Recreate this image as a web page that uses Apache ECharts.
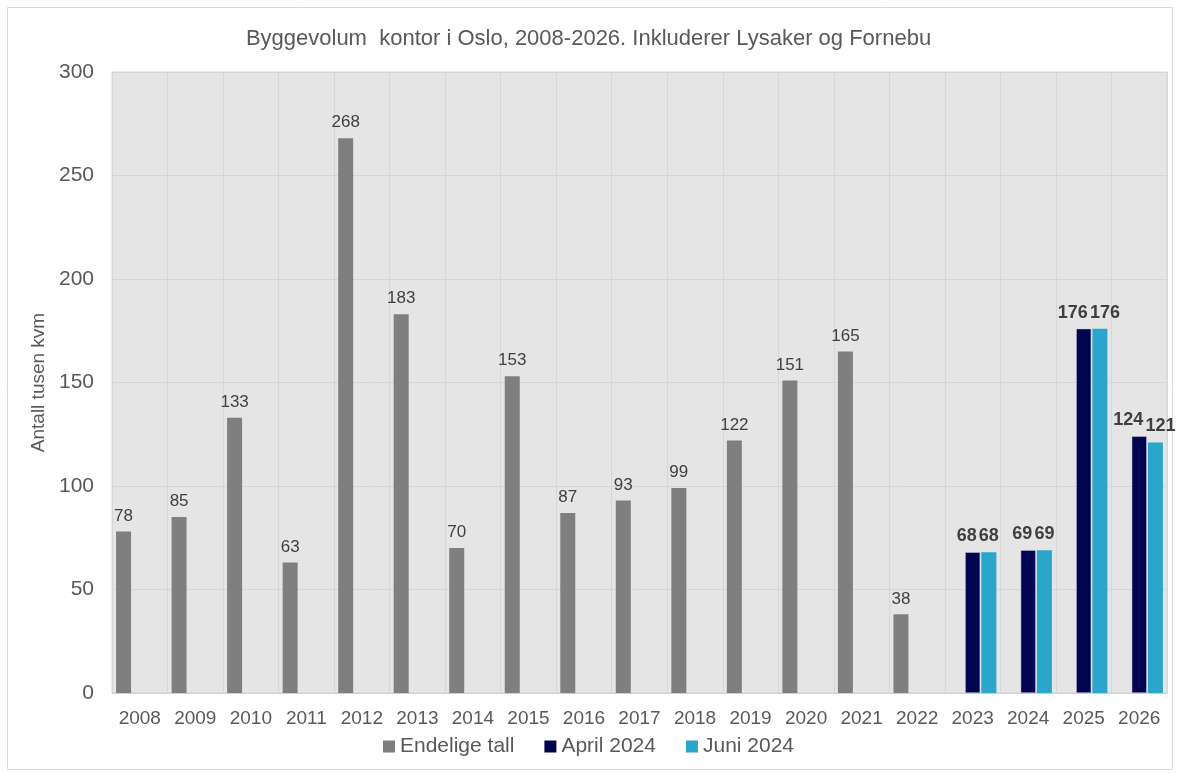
<!DOCTYPE html>
<html><head><meta charset="utf-8">
<script src="https://cdn.jsdelivr.net/npm/echarts@6/dist/echarts.min.js"></script>
<style>html,body{margin:0;padding:0;background:#fff}#c{width:1177px;height:773px}</style>
</head><body><div id="c"></div>
<script>
const years = ['2008','2009','2010','2011','2012','2013','2014','2015','2016','2017','2018','2019','2020','2021','2022','2023','2024','2025','2026'];
const endelige = [78,85,133,63,268,183,70,153,87,93,99,122,151,165,38,null,null,null,null];
const april2024 = [null,null,null,null,null,null,null,null,null,null,null,null,null,null,null,68,69,176,124];
const juni2024 = [null,null,null,null,null,null,null,null,null,null,null,null,null,null,null,68,69,176,121];
const yTicks = [0,50,100,150,200,250,300];

const font = 'Liberation Sans, Arial, sans-serif';
const chart = echarts.init(document.getElementById('c'));
chart.setOption({
  animation:false,
  backgroundColor:'#fff',
  graphic:[{type:'rect',shape:{x:7.5,y:7.5,width:1165,height:762},style:{fill:'none',stroke:'#d9d9d9',lineWidth:1},silent:true}],
  title:{text:'Byggevolum  kontor i Oslo, 2008-2026. Inkluderer Lysaker og Fornebu',left:'center',top:23,
    textStyle:{fontFamily:font,fontSize:22,fontWeight:'normal',color:'#595959'}},
  legend:{bottom:11,left:'center',itemWidth:12,itemHeight:12,itemGap:30,icon:'rect',
    itemStyle:{borderWidth:0},
    textStyle:{fontFamily:font,fontSize:21,color:'#595959'}},
  grid:{left:112,right:10,top:72,bottom:80,backgroundColor:'#e5e5e5',show:true,borderColor:'#d6d6d6',borderWidth:1},
  xAxis:{type:'category',data:years,
    axisLine:{show:true,lineStyle:{color:'#d0d0d0'}},axisTick:{show:false},
    splitLine:{show:true,lineStyle:{color:'#d6d6d6',width:1}},
    axisLabel:{fontFamily:font,fontSize:19,color:'#595959',margin:16,interval:0}},
  yAxis:{type:'value',min:0,max:300,interval:50,
    name:'Antall tusen kvm',nameLocation:'middle',nameGap:62,
    nameTextStyle:{fontFamily:font,fontSize:19,color:'#595959'},
    axisLine:{show:false},axisTick:{show:false},
    splitLine:{lineStyle:{color:'#d6d6d6',width:1}},
    axisLabel:{fontFamily:font,fontSize:21,color:'#595959',margin:18,
      formatter:v=>yTicks.includes(v)?String(v):''}},
  series:[
    {name:'Endelige tall',type:'bar',data:endelige,barWidth:15,barGap:'8%',
      itemStyle:{color:'#7f7f7f'},
      label:{show:true,position:'top',distance:7,fontFamily:font,fontSize:17,color:'#404040'}},
    {name:'April 2024',type:'bar',data:april2024,barWidth:15,barGap:'8%',
      itemStyle:{color:'#000451',borderColor:'#c8c8d8',borderWidth:0.5},
      label:{show:true,position:'top',distance:7,align:'right',offset:[4,0],fontFamily:font,fontSize:18,fontWeight:'bold',color:'#404040'}},
    {name:'Juni 2024',type:'bar',data:juni2024,barWidth:15,barGap:'8%',
      itemStyle:{color:'#29a6cc'},
      label:{show:true,position:'top',distance:7,align:'left',offset:[-10,0],fontFamily:font,fontSize:18,fontWeight:'bold',color:'#404040'}}
  ]
});
</script></body></html>
